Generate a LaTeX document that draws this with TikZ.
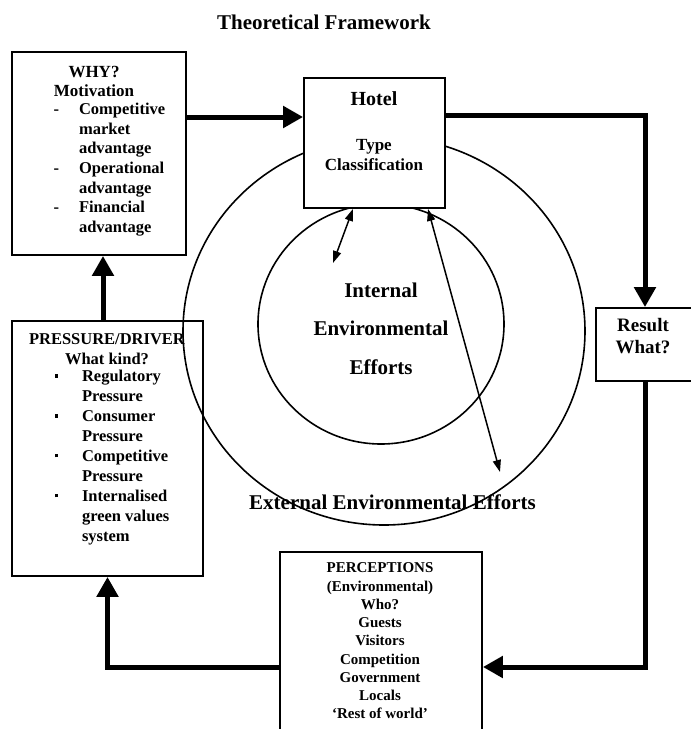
\documentclass[tikz,border=0pt]{standalone}
\usepackage{fontspec}
\setmainfont{Liberation Serif}
\usetikzlibrary{arrows.meta}

\newcommand{\txtsize}[2]{\fontsize{#1}{#2}\selectfont\bfseries}
\newcommand{\sqbullet}{\rule[4pt]{3.5pt}{3.5pt}}

\begin{document}
\begin{tikzpicture}[x=1pt,y=-1pt,
        box/.style={draw,line width=1.8pt,inner sep=0pt},
        flow/.style={line width=5pt,-{Triangle[length=20pt,width=21pt]}},
        twoway/.style={line width=1.5pt,{Triangle[length=12pt,width=8pt]}-{Triangle[length=12pt,width=8pt]}},
        ring/.style={line width=1.6pt}] %Marco teórico
            \useasboundingbox (0,0) rectangle (691,729);
            \clip (0,0) rectangle (691,729);

            \coordinate (O) at (384,331);
            \coordinate (I) at (381,324);
            \coordinate (innerpt) at (333,263);
            \coordinate (outerpt) at (500,472);

            \draw[ring] (O) ellipse (201pt and 194pt);
            \draw[ring] (I) ellipse (123pt and 120pt);

            \node[box,fill=white,minimum width=174pt,minimum height=203pt] (why) at (99,153.5) {};
            \node[box,minimum width=191pt,minimum height=255pt] (press) at (107.5,448.5) {};
            \node[box,fill=white,minimum width=141pt,minimum height=130pt] (hotel) at (374.5,143) {};
            \node[box,fill=white,minimum width=110pt,minimum height=73pt] (result) at (651,344.5) {};
            \node[box,fill=white,minimum width=202pt,minimum height=200pt] (perc) at (381,652) {};

            \node[font=\txtsize{21}{25}] (title) at (324,22) {Theoretical Framework};

            \node[align=center,font=\txtsize{17}{19.6}] (whyhead) at (94,81.5) {WHY?\\Motivation};
            \node[anchor=west,font=\txtsize{16.5}{19.6}] (whylist) at (50,169.5)
                {\begin{tabular}{@{}l@{\hspace{20pt}}l@{}}
                 - & Competitive\\ & market\\ & advantage\\
                 - & Operational\\ & advantage\\
                 - & Financial\\ & advantage
                 \end{tabular}};

            \node[align=center,font=\txtsize{16.5}{20}] (presshead) at (107,349) {PRESSURE/DRIVER\\What kind?};
            \node[anchor=west,font=\txtsize{16.5}{19.9}] (presslist) at (51,457.5)
                {\begin{tabular}{@{}l@{\hspace{24pt}}l@{}}
                 \sqbullet & Regulatory\\ & Pressure\\
                 \sqbullet & Consumer\\ & Pressure\\
                 \sqbullet & Competitive\\ & Pressure\\
                 \sqbullet & Internalised\\ & green values\\ & system
                 \end{tabular}};

            \node[font=\txtsize{20}{24}] (hotelname) at (374,99) {Hotel};
            \node[align=center,font=\txtsize{17}{20}] (hoteltype) at (374,155) {Type\\Classification};

            \node[align=center,font=\txtsize{19}{22}] (resulttext) at (643,336) {Result\\What?};

            \node[align=center,font=\txtsize{21}{38.5}] (internal) at (381,328.5) {Internal\\Environmental\\Efforts};
            \node[font=\txtsize{21}{25}] (external) at (392.5,502) {External Environmental Efforts};

            \node[align=center,font=\txtsize{15}{18.25}] (perctext) at (380,641)
                {PERCEPTIONS\\(Environmental)\\Who?\\Guests\\Visitors\\Competition\\Government\\Locals\\`Rest of world'};

            \draw[flow] (why.east |- 0,117) -- (hotel.west |- 0,117);
            \draw[flow] (press.north -| 103,0) -- (why.south -| 103,0);
            \draw[flow] (hotel.east |- 0,115) -| (result.north -| 645,0);
            \draw[flow] (result.south -| 645,0) |- (perc.east |- 0,667);
            \draw[flow] (perc.west |- 0,667) -| (press.south);

            \draw[twoway] (hotel.south -| 353,0) -- (innerpt);
            \draw[twoway] (hotel.south -| 428,0) -- (outerpt);
        \end{tikzpicture}
\end{document}
